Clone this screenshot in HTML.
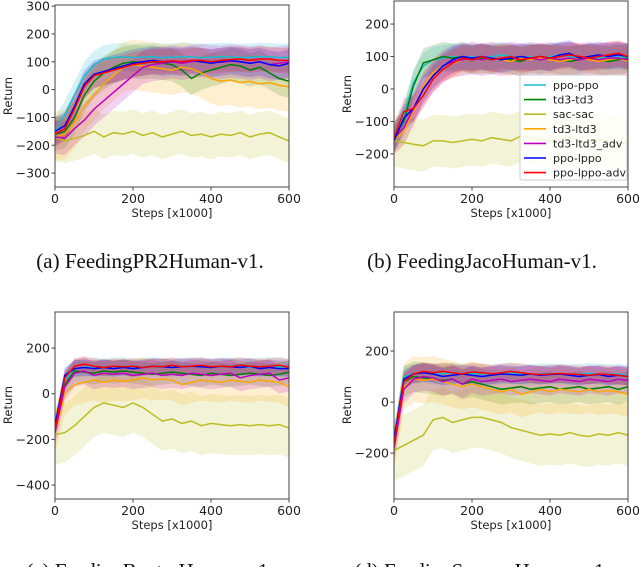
<!DOCTYPE html>
<html><head><meta charset="utf-8"><style>
body{margin:0;background:#fff;width:640px;height:567px;overflow:hidden;position:relative}
svg{position:absolute;left:0;top:0}
.tk{font-family:"DejaVu Sans","Liberation Sans",sans-serif;font-size:12.5px;fill:#222}
.lb{font-family:"DejaVu Sans","Liberation Sans",sans-serif;font-size:11.5px;fill:#222}
.lg{font-family:"DejaVu Sans","Liberation Sans",sans-serif;font-size:11px;fill:#222}
.cap{font-family:"Liberation Serif",serif;font-size:21px;fill:#111}
</style></head><body>
<svg id="chart" width="640" height="567" xmlns="http://www.w3.org/2000/svg"></svg>
<script>
const seriesNames=["ppo-ppo","td3-td3","sac-sac","td3-ltd3","td3-ltd3_adv","ppo-lppo","ppo-lppo-adv"];
const seriesColors=["#17becf","#008000","#bcbd22","#ffa500","#bf00bf","#0000ff","#ff0000"];
const steps=[0,25,50,75,100,125,150,175,200,225,250,275,300,325,350,375,400,425,450,475,500,525,550,575,600];
const xTicks=[0,200,400,600];
const aTicks=[300,200,100,0,-100,-200,-300];
const bTicks=[200,100,0,-100,-200];
const cTicks=[200,0,-200,-400];
const dTicks=[200,0,-200];
const aData=[
[-150,-90,-20,50,90,110,115,118,115,117,118,115,116,118,117,115,116,118,117,115,116,118,117,115,116],
[-160,-150,-100,-20,30,60,80,95,100,98,100,95,90,70,40,60,70,80,90,85,70,80,60,40,30],
[-170,-185,-175,-165,-150,-170,-155,-160,-150,-165,-155,-170,-160,-150,-165,-160,-170,-160,-165,-155,-170,-160,-155,-170,-185],
[-170,-160,-120,-60,-20,20,50,80,90,85,80,75,70,80,75,60,40,30,35,25,30,20,25,15,10],
[-170,-175,-140,-110,-70,-40,-10,20,50,80,90,95,100,95,100,105,100,98,102,100,95,100,90,95,100],
[-150,-130,-60,20,55,65,75,85,95,100,105,100,102,100,105,100,95,100,105,100,95,100,90,85,95],
[-160,-140,-70,10,50,60,70,80,90,95,100,100,103,100,105,105,100,105,108,110,105,110,110,105,105]];
const bData=[
[-150,-80,20,70,90,95,100,95,100,95,100,105,100,95,100,95,100,105,100,95,100,95,100,100,95],
[-150,-100,10,80,90,100,95,100,90,95,90,95,90,85,95,90,95,90,85,90,95,90,85,90,95],
[-160,-165,-170,-175,-160,-160,-165,-160,-155,-160,-150,-155,-160,-145,-150,-155,-160,-155,-150,-160,-165,-155,-160,-170,-165],
[-160,-130,-70,10,50,70,80,90,95,90,95,90,85,95,90,95,90,85,90,95,90,85,90,95,85],
[-150,-120,-60,0,40,70,85,90,95,90,95,90,95,90,95,90,95,90,95,90,95,90,95,95,90],
[-160,-90,-60,0,40,70,90,100,95,100,95,90,95,100,95,100,95,105,110,95,100,105,100,105,100],
[-150,-70,-60,-20,30,60,80,95,90,100,90,95,100,90,95,100,95,100,105,100,95,100,105,110,100]];
const cData=[
[-150,60,110,115,120,115,118,120,115,118,120,118,115,118,120,118,115,118,120,118,115,118,120,118,115],
[-150,40,100,95,90,100,95,100,95,90,85,90,95,90,85,80,90,85,80,85,90,85,80,85,95],
[-180,-170,-140,-100,-60,-40,-50,-60,-40,-60,-90,-120,-110,-130,-120,-140,-130,-135,-140,-135,-140,-135,-140,-135,-150],
[-170,0,40,50,60,50,60,55,60,70,60,65,60,40,50,60,55,50,60,55,50,60,55,50,30],
[-170,30,90,100,80,90,85,90,80,85,90,80,85,80,90,85,80,85,90,70,80,85,90,60,70],
[-140,80,110,115,110,115,110,115,110,115,120,118,115,118,120,118,115,120,118,115,120,110,115,110,110],
[-160,70,120,130,120,115,120,118,120,115,120,118,125,118,120,125,118,120,118,125,120,118,120,125,115]];
const dData=[
[-150,100,110,115,110,112,115,110,112,110,108,110,112,110,108,110,112,110,108,110,112,110,108,110,105],
[-170,80,100,95,90,85,90,70,80,70,60,50,55,60,50,55,60,50,55,60,50,55,60,50,60],
[-190,-170,-150,-130,-70,-60,-80,-70,-60,-60,-70,-80,-100,-110,-120,-130,-125,-130,-120,-130,-135,-125,-130,-120,-130],
[-180,60,90,85,90,80,70,60,70,60,50,40,50,30,40,50,40,50,45,40,50,40,45,40,30],
[-180,50,90,100,95,80,90,70,90,80,85,90,80,85,90,85,80,90,85,80,90,85,80,90,85],
[-150,90,110,115,110,100,105,110,105,100,105,110,108,105,110,105,108,110,105,100,105,108,100,105,100],
[-170,80,110,120,115,120,115,110,118,115,110,115,120,115,110,108,110,112,110,108,105,110,108,105,100]];
const aSpread=[50,60,80,90,60,50,45];
const bSpread=[40,45,80,45,50,40,40];
const cSpread=[40,50,130,90,60,35,35];
const dSpread=[40,60,120,90,55,35,35];

const NS="http://www.w3.org/2000/svg";
const svg=document.getElementById('chart');
function mk(tag,attrs,parent){const e=document.createElementNS(NS,tag);for(const k in attrs)e.setAttribute(k,attrs[k]);(parent||svg).appendChild(e);return e;}

function drawPlot(id,L,R,T,B,ymin,ymax,yticks,data,spread){
  const g=mk('g',{});
  
  
  const xs=v=>L+(v-0)/(600-0)*(R-L);
  const ys=v=>B-(v-ymin)/(ymax-ymin)*(B-T);
  const cp=mk('clipPath',{id:'clip'+id},g);
  mk('rect',{x:L,y:T,width:R-L,height:B-T},cp);
  const pg=mk('g',{'clip-path':'url(#clip'+id+')'},g);
  data.forEach((ser,si)=>{
    let up=steps.map((s,i)=>xs(s).toFixed(1)+','+ys(ser[i]+spread[si]).toFixed(1));
    let dn=steps.map((s,i)=>xs(s).toFixed(1)+','+ys(ser[i]-spread[si]).toFixed(1)).reverse();
    const band=mk('polygon',{points:up.concat(dn).join(' '),fill:seriesColors[si],'fill-opacity':0.18,stroke:'none'},pg);
    
    
  });
  data.forEach((ser,si)=>{
    const pts=steps.map((s,i)=>xs(s).toFixed(1)+','+ys(ser[i]).toFixed(1)).join(' ');
    const ln=mk('polyline',{points:pts,fill:'none',stroke:seriesColors[si],'stroke-width':1.5},pg);
    
    
  });
  const fr=mk('rect',{x:L,y:T,width:R-L,height:B-T,fill:'none',stroke:'#444','stroke-width':1},g);
  
  
  yticks.forEach(v=>{
    const y=ys(v);
    mk('line',{x1:L-3.5,x2:L,y1:y,y2:y,stroke:'#444'},g);
    const t=mk('text',{x:L-5,y:y+4.5,'text-anchor':'end',class:'tk'},g);
    t.textContent=v<0?'\u2212'+Math.abs(v):String(v);
    
    
  });
  xTicks.forEach(v=>{
    const x=xs(v);
    mk('line',{x1:x,x2:x,y1:B,y2:B+3.5,stroke:'#444'},g);
    const t=mk('text',{x:x,y:B+16,'text-anchor':'middle',class:'tk'},g);
    t.textContent=String(v);
    
    
  });
  const xl=mk('text',{x:(L+R)/2,y:B+30,'text-anchor':'middle',class:'lb'},g);
  xl.textContent='Steps [x1000]';
  
  
  return {g,xs,ys};
}
drawPlot('a',55,289,5,187,-350,304,aTicks,aData,aSpread);
drawPlot('b',394,628,1,187,-302,271,bTicks,bData,bSpread);
drawPlot('c',55,289,312,499,-461,358,cTicks,cData,cSpread);
drawPlot('d',394,628,312,499,-380,353,dTicks,dData,dSpread);

[[8,96],[347,94],[8,405],[347,405]].forEach(p=>{
  const t=mk('text',{x:p[0]+4,y:p[1],'text-anchor':'middle',class:'lb',transform:'rotate(-90 '+(p[0]+4)+' '+p[1]+')'});
  t.textContent='Return';
  
  
});

const lg=mk('g',{});


mk('rect',{x:520,y:75,width:107,height:105,rx:2,fill:'#fff','fill-opacity':0.85,stroke:'#ccc'},lg);
seriesNames.forEach((n,i)=>{
  const y=85+i*14.6;
  const ent=mk('g',{},lg);
  
  
  mk('line',{x1:524,x2:546,y1:y,y2:y,stroke:seriesColors[i],'stroke-width':1.6},ent);
  const t=mk('text',{x:553,y:y+4,class:'lg'},ent);
  t.textContent=n;
});

[[150,268,'(a)  FeedingPR2Human-v1.'],[482,268,'(b)  FeedingJacoHuman-v1.'],[150,578,'(c)  FeedingBaxterHuman-v1.'],[482,578,'(d)  FeedingSawyerHuman-v1.']].forEach((c,i)=>{
  const t=mk('text',{x:c[0],y:c[1],'text-anchor':'middle',class:'cap','xml:space':'preserve'});
  t.textContent=c[2];
  
  
});
</script>
</body></html>
